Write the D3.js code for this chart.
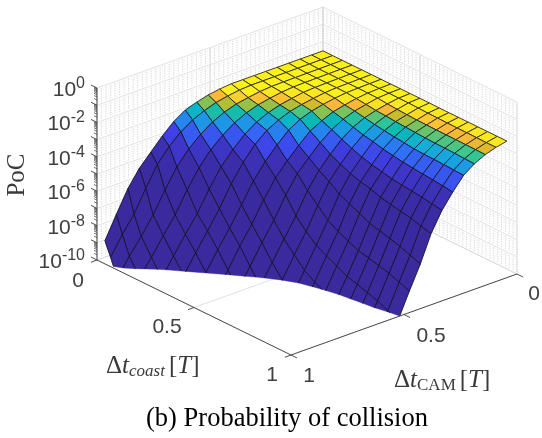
<!DOCTYPE html>
<html>
<head>
<meta charset="utf-8">
<script src="https://cdn.jsdelivr.net/npm/d3@7"></script>
<style>
  body { margin: 0; background: #fff; }
  svg { display: block; filter: blur(0.35px); }
</style>
</head>
<body>
<svg width="542" height="438"></svg>
<script>
// grid positions, T
var gridSteps = d3.range(20);
// end of each grid line: the surface does not quite fill the box at the far corners
var camEnd = [.965, .985, 1, 1, 1, 1, 1, 1, 1, 1, 1, 1, 1, 1, 1, 1, 1, 1, 1, 1];
var coastEnd = [.948, .953, .959, .964, .97, .975, .981, .986, .992, .997, 1, 1, 1, 1, 1, 1, 1, 1, 1, 1];

// PoC = 10^-e, one row per coast step, one column per CAM step
var pocExp = [
  [2.55, 2.55, 2.55, 2.55, 2.55, 2.55, 2.55, 2.55, 2.55, 2.62, 2.72, 2.90, 3.12, 3.55, 4.15, 4.85, 5.55, 6.50, 7.75, 9.05],
  [2.55, 2.55, 2.55, 2.55, 2.55, 2.55, 2.55, 2.55, 2.59, 2.69, 2.82, 3.05, 3.35, 3.80, 4.40, 5.20, 6.35, 7.60, 8.55, 9.63],
  [2.55, 2.55, 2.55, 2.55, 2.55, 2.55, 2.56, 2.61, 2.71, 2.83, 3.05, 3.38, 3.85, 4.45, 5.25, 6.35, 7.55, 8.54, 9.45, 10.5],
  [2.55, 2.55, 2.55, 2.55, 2.55, 2.56, 2.61, 2.71, 2.84, 3.05, 3.38, 3.85, 4.45, 5.25, 6.30, 7.50, 8.46, 9.47, 10.4, 11.3],
  [2.55, 2.55, 2.55, 2.55, 2.56, 2.59, 2.69, 2.81, 3.00, 3.30, 3.75, 4.40, 5.15, 6.20, 7.38, 8.34, 9.35, 10.4, 11.4, 12.4],
  [2.55, 2.55, 2.55, 2.55, 2.58, 2.66, 2.76, 2.90, 3.15, 3.50, 4.05, 4.85, 5.85, 7.05, 8.11, 9.12, 10.2, 11.2, 12.2, 13.2],
  [2.55, 2.55, 2.55, 2.56, 2.62, 2.72, 2.85, 3.08, 3.45, 4.05, 4.75, 5.65, 6.79, 7.88, 8.90, 10.0, 11.0, 12.0, 13.0, 14.0],
  [2.55, 2.55, 2.56, 2.62, 2.73, 2.87, 3.13, 3.47, 4.05, 4.68, 5.42, 6.46, 7.62, 8.65, 9.80, 10.8, 11.9, 12.9, 13.9, 14.9],
  [2.55, 2.55, 2.57, 2.68, 2.80, 3.02, 3.36, 3.85, 4.47, 5.14, 6.14, 7.36, 8.41, 9.54, 10.6, 11.7, 12.7, 13.7, 14.7, 15.7],
  [2.55, 2.56, 2.63, 2.75, 2.91, 3.20, 3.63, 4.24, 4.92, 5.84, 7.05, 8.15, 9.27, 10.4, 11.5, 12.5, 13.6, 14.6, 15.6, 16.6],
  [2.55, 2.56, 2.67, 2.79, 3.02, 3.36, 3.88, 4.54, 5.28, 6.41, 7.67, 8.78, 10.0, 11.1, 12.2, 13.3, 14.4, 15.5, 16.6, 17.6],
  [2.55, 2.58, 2.70, 2.84, 3.10, 3.47, 4.10, 4.80, 5.72, 6.99, 8.18, 9.39, 10.6, 11.7, 12.8, 14.0, 15.1, 16.2, 17.3, 18.4],
  [2.56, 2.60, 2.73, 2.88, 3.18, 3.62, 4.26, 4.99, 6.00, 7.34, 8.51, 9.78, 11.0, 12.1, 13.2, 14.4, 15.5, 16.6, 17.8, 18.9],
  [2.56, 2.61, 2.74, 2.91, 3.24, 3.72, 4.39, 5.12, 6.27, 7.62, 8.81, 10.1, 11.3, 12.4, 13.6, 14.8, 15.9, 17.1, 18.3, 19.4],
  [2.56, 2.62, 2.75, 2.95, 3.31, 3.81, 4.51, 5.32, 6.56, 7.88, 9.12, 10.4, 11.6, 12.8, 14.0, 15.1, 16.3, 17.5, 18.7, 19.9],
  [2.56, 2.63, 2.76, 2.97, 3.34, 3.88, 4.59, 5.45, 6.72, 8.02, 9.29, 10.6, 11.8, 13.0, 14.2, 15.4, 16.5, 17.7, 19.0, 20.2],
  [2.56, 2.63, 2.76, 2.98, 3.36, 3.94, 4.66, 5.56, 6.87, 8.17, 9.48, 10.8, 12.0, 13.2, 14.4, 15.6, 16.8, 18.0, 19.2, 20.4],
  [2.56, 2.64, 2.77, 3.00, 3.38, 3.99, 4.73, 5.68, 7.04, 8.33, 9.68, 10.9, 12.2, 13.4, 14.6, 15.8, 17.0, 18.2, 19.4, 20.6],
  [2.56, 2.65, 2.78, 3.03, 3.41, 4.06, 4.82, 5.84, 7.26, 8.55, 9.96, 11.2, 12.4, 13.7, 14.9, 16.1, 17.4, 18.6, 19.8, 21.0],
  [2.56, 2.65, 2.79, 3.05, 3.44, 4.14, 4.92, 6.00, 7.48, 8.78, 10.2, 11.4, 12.7, 13.9, 15.2, 16.5, 17.7, 19.0, 20.2, 21.4]
];

var zExpMin = -10, zExpMax = 0;
var zMajor = d3.range(zExpMin, zExpMax + 1);
var zLabels = [0, -2, -4, -6, -8, -10];
var zMinorFactors = [2, 3, 4, 5, 6, 7, 8, 9];
var horizTicks = [0, .5, 1];
var wallMinor = d3.range(0, 51).map(function (d) { return d / 50; });

// parula as it comes out in the picture
var colorStops = [0, .1, .2, .3, .4, .5, .6, .7, .75, .85, .93, 1];
var colorValues = ["#3a2a9e", "#4040e8", "#3070f8", "#2090e8", "#14b0d4", "#08b8b4", "#3cc68f", "#a0c040", "#c4bc2a", "#fdb83a", "#f8d828", "#f9f01c"];

var svg = d3.select("svg");

// box corners: back corner is at cam=0, coast=0
var backX = 323, backY = 179;
var camX = d3.scaleLinear().domain([0, 1]).range([0, -226]);
var camY = d3.scaleLinear().domain([0, 1]).range([0, 81]);
var coastX = d3.scaleLinear().domain([0, 1]).range([0, 194]);
var coastY = d3.scaleLinear().domain([0, 1]).range([0, 95]);
var zH = d3.scaleLog().domain([1e-10, 1]).range([0, 172]);
var color = d3.scaleLinear().domain(colorStops).range(colorValues).clamp(true);

function proj(cam, coast, e) {
  return [backX + camX(cam) + coastX(coast),
          backY + camY(cam) + coastY(coast) - zH(Math.pow(10, e))];
}
function lineThrough(pts) {
  return "M" + pts.map(function (p) { return p[0].toFixed(2) + "," + p[1].toFixed(2); }).join("L");
}

// ---- walls and floor
var walls = svg.append("g");
function wallLine(a, b, col, w, dash) {
  var l = walls.append("path").attr("d", lineThrough([a, b]))
    .attr("fill", "none").attr("stroke", col).attr("stroke-width", w);
  if (dash) l.attr("stroke-dasharray", dash);
}
zMajor.slice(0, -1).forEach(function (d) {
  zMinorFactors.forEach(function (f) {
    var e = d + Math.log10(f);
    wallLine(proj(1, 0, e), proj(0, 0, e), "#ececec", .6, "1 2");
    wallLine(proj(0, 0, e), proj(0, 1, e), "#ececec", .6, "1 2");
  });
  wallMinor.forEach(function (v) {
    wallLine(proj(v, 0, d + .12), proj(v, 0, d + .92), "#d2d2d2", .8, "1.3 1.1");
    wallLine(proj(0, v, d + .12), proj(0, v, d + .92), "#d2d2d2", .8, "1.3 1.1");
  });
});
zMajor.forEach(function (d) {
  wallLine(proj(1, 0, d), proj(0, 0, d), "#dadada", .8);
  wallLine(proj(0, 0, d), proj(0, 1, d), "#dadada", .8);
});
horizTicks.forEach(function (v) {
  wallLine(proj(v, 0, zExpMin), proj(v, 0, zExpMax), "#d4d4d4", .8);
  wallLine(proj(0, v, zExpMin), proj(0, v, zExpMax), "#d4d4d4", .8);
  wallLine(proj(v, 0, zExpMin), proj(v, 1, zExpMin), "#d8d8d8", .8);
  wallLine(proj(0, v, zExpMin), proj(1, v, zExpMin), "#d8d8d8", .8);
});

// ---- surface, painted from the back corner to the front
var verts = pocExp.map(function (row, j) {
  return row.map(function (e, i) {
    return {
      cam: gridSteps[i] / 19 * camEnd[j],
      coast: gridSteps[j] / 19 * coastEnd[i],
      e: -e
    };
  });
});
function between(a, b) {
  var t = (zExpMin - a.e) / (b.e - a.e);
  return { cam: a.cam + t * (b.cam - a.cam), coast: a.coast + t * (b.coast - a.coast), e: zExpMin };
}
// anything under the z limit is cut off at the floor
function clipPoly(poly) {
  var out = [];
  poly.forEach(function (p, k) {
    var q = poly[(k + 1) % poly.length];
    if (p.e >= zExpMin) out.push(p);
    if ((p.e >= zExpMin) != (q.e >= zExpMin)) out.push(between(p, q));
  });
  return out;
}
function toScreen(p) { return proj(p.cam, p.coast, p.e); }

var surf = svg.append("g");
var maxPoc = Math.pow(10, d3.max(verts, function (r) { return d3.max(r, function (v) { return v.e; }); }));
d3.range(19).forEach(function (j) {
  d3.range(19).forEach(function (i) {
    var corners = [verts[j][i], verts[j + 1][i], verts[j + 1][i + 1], verts[j][i + 1]];
    var poly = clipPoly(corners);
    if (poly.length < 3) return;
    var c = color(Math.pow(10, verts[j][i].e) / maxPoc);
    surf.append("path").attr("d", lineThrough(poly.map(toScreen)) + "Z")
      .attr("fill", c).attr("stroke", c).attr("stroke-width", .4);
    corners.forEach(function (a, k) {
      var b = corners[(k + 1) % 4];
      if (a.e < zExpMin && b.e < zExpMin) return;
      var p = a.e < zExpMin ? between(a, b) : a;
      var q = b.e < zExpMin ? between(a, b) : b;
      surf.append("path").attr("d", lineThrough([toScreen(p), toScreen(q)]))
        .attr("fill", "none").attr("stroke", "#141020").attr("stroke-width", .8);
    });
  });
});

// ---- axes
var axes = svg.append("g").attr("stroke", "#3a3a3a").attr("stroke-width", .9).attr("fill", "none");
function axisLine(a, b, w) {
  var l = axes.append("path").attr("d", lineThrough([a, b]));
  if (w) l.attr("stroke-width", w);
}
var pL = proj(1, 0, zExpMin), pF = proj(1, 1, zExpMin), pR = proj(0, 1, zExpMin);
axisLine(pL, pF);
axisLine(pF, pR);
axisLine(pL, proj(1, 0, zExpMax));
horizTicks.forEach(function (v) {
  var a = proj(1, v, zExpMin);
  axisLine(a, [a[0] - 6, a[1] + 2.2]);
  var b = proj(v, 1, zExpMin);
  axisLine(b, [b[0] + 6, b[1] + 3]);
});
zMajor.forEach(function (d) {
  var a = proj(1, 0, d);
  axisLine(a, [a[0] - 6, a[1] - 3]);
  if (d == zExpMax) return;
  zMinorFactors.forEach(function (f) {
    var m = proj(1, 0, d + Math.log10(f));
    axisLine(m, [m[0] - 3, m[1] - 1.5], .7);
  });
});

// ---- text
var labels = svg.append("g").attr("font-family", "'Liberation Sans', Arial, sans-serif").attr("fill", "#404040");
zLabels.forEach(function (d) {
  var a = proj(1, 0, d);
  var t = labels.append("text").attr("x", 85).attr("y", a[1] + 8)
    .attr("text-anchor", "end").attr("font-size", 21);
  t.append("tspan").text("10");
  t.append("tspan").attr("dy", -8).attr("font-size", 16).text(d);
});
var horizLabels = [
  { text: "0", x: 78, y: 287 },
  { text: "0.5", x: 167, y: 333 },
  { text: "1", x: 272, y: 381 },
  { text: "1", x: 309, y: 382 },
  { text: "0.5", x: 431, y: 342 },
  { text: "0", x: 534, y: 300 }
];
horizLabels.forEach(function (d) {
  labels.append("text").attr("x", d.x).attr("y", d.y).attr("text-anchor", "middle")
    .attr("font-size", 21).text(d.text);
});

var serif = svg.append("g").attr("font-family", "'Liberation Serif', 'Times New Roman', serif").attr("fill", "#3a3a3a");
serif.append("text").attr("transform", "translate(24,175) rotate(-90)")
  .attr("text-anchor", "middle").attr("font-size", 25).text("PoC");

var coastLabel = serif.append("text").attr("x", 106).attr("y", 373).attr("font-size", 25);
coastLabel.append("tspan").text("\u0394");
coastLabel.append("tspan").attr("font-style", "italic").text("t");
coastLabel.append("tspan").attr("font-style", "italic").attr("font-size", 17).attr("dy", 3).text("coast");
coastLabel.append("tspan").attr("dy", -3).attr("dx", 4).text("[");
coastLabel.append("tspan").attr("font-style", "italic").text("T");
coastLabel.append("tspan").text("]");

var camLabel = serif.append("text").attr("x", 394).attr("y", 387).attr("font-size", 25);
camLabel.append("tspan").text("\u0394");
camLabel.append("tspan").attr("font-style", "italic").text("t");
camLabel.append("tspan").attr("font-size", 17).attr("dy", 3).text("CAM");
camLabel.append("tspan").attr("dy", -3).attr("dx", 4).text("[");
camLabel.append("tspan").attr("font-style", "italic").text("T");
camLabel.append("tspan").text("]");

svg.append("text").attr("x", 287).attr("y", 426).attr("text-anchor", "middle")
  .attr("font-family", "'Liberation Serif', 'Times New Roman', serif")
  .attr("font-size", 26.5).attr("fill", "#000").text("(b) Probability of collision");
</script>
</body>
</html>
